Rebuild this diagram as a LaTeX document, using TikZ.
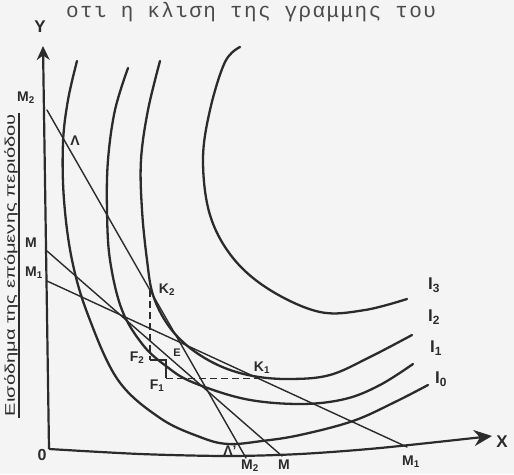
\documentclass[tikz,border=0pt]{standalone}
\usepackage{fontspec}
\setmainfont{Liberation Sans}
\newfontfamily\twfont[LetterSpace=6.7]{Liberation Mono}
\usetikzlibrary{arrows.meta,calc}
\definecolor{ink}{HTML}{2B2B2B}
\definecolor{paper}{HTML}{F4F4F4}
\begin{document}
\begin{tikzpicture}[x=1pt,y=-1pt,
  curve/.style={ink, line width=2.3pt, line cap=round, line join=round},
  bline/.style={ink, line width=1.4pt, line cap=round},
  axis/.style={ink, line width=2.2pt},
  lbl/.style={ink, font=\bfseries\fontsize{14}{14}\selectfont, inner sep=0pt},
  ilbl/.style={ink, font=\bfseries\fontsize{17}{17}\selectfont, inner sep=0pt},
  dsh/.style={ink, line width=1.2pt, dash pattern=on 7pt off 4pt}]
\fill[paper] (0,0) rectangle (514,474);
\useasboundingbox (0,0) rectangle (514,474);
\clip (0,0) rectangle (514,474);

% top typed line
\node[anchor=base west, inner sep=0pt, ink!85, font=\twfont\fontsize{21}{21}\selectfont] (toptext) at (66,17) {οτι η κλιση της γραμμης του};

% axes
\coordinate (O) at (49,449);
\coordinate (ytip) at (43,46);
\draw[axis,-{Stealth[length=14pt,width=13pt]}] (O) -- (ytip);
\draw[axis,-{Stealth[length=18pt,width=16pt]}] plot[smooth] coordinates {(49,449) (140,454) (227,456) (300,454) (380,448) (492,436)};
\node[lbl, font=\bfseries\fontsize{17}{17}\selectfont] (Ylab) at (40,27) {Y};
\node[lbl, font=\bfseries\fontsize{17}{17}\selectfont] (Xlab) at (502,442) {X};
\node[lbl, font=\bfseries\fontsize{16}{16}\selectfont] (Olab) at (42,455) {0};

% vertical axis caption
\node[rotate=90, ink, inner sep=0pt] (ycap) at (11,265) {\resizebox{302pt}{\height}{\fontsize{14}{14}\selectfont Εισόδημα της επόμενης περιόδου}};
\coordinate (ul1) at (19,418);
\coordinate (ul2) at (19,113);
\draw[ink, line width=1.1pt] (ul1) -- (ul2);

% budget lines
\coordinate (M2y) at (47,110); \coordinate (M2x) at (246,458);
\coordinate (My) at (47,251);  \coordinate (Mx) at (282,456);
\coordinate (M1y) at (47,281); \coordinate (M1x) at (407,447);
\draw[bline] (M2y) -- (M2x);
\draw[bline] (My) -- (Mx);
\draw[bline] (M1y) -- (M1x);

% indifference curves
\draw[curve] plot[smooth, tension=0.6] coordinates {(77,61) (68,100) (63,143) (64,200) (72,260) (88,315) (118,380) (160,418) (200,437) (228,444) (262,441) (300,435) (353,421) (395,402) (428,385)};
\draw[curve] plot[smooth, tension=0.6] coordinates {(128,68) (115,110) (108,160) (107,210) (110,260) (122,310) (143,345) (166,366) (192,382) (245,399) (300,404) (345,399) (380,385) (413,364)};
\draw[curve] plot[smooth, tension=0.6] coordinates {(160,61) (148,110) (141,160) (142,210) (147,260) (153,295) (168,325) (190,348) (220,366) (253,376) (290,379) (330,375) (370,357) (412,335)};
\draw[curve] plot[smooth, tension=0.6] coordinates {(240,47) (225,62) (210,110) (203,160) (210,215) (233,258) (270,290) (320,312) (365,310) (407,299)};

% construction
\coordinate (K2) at ($(M2y)!0.518!(M2x)$);
\coordinate (E) at (166,360);
\coordinate (F2) at (K2 |- E);
\coordinate (K1) at ($(M1y)!0.585!(M1x)$);
\coordinate (F1) at (E |- K1);
\draw[dsh] (K2) -- (F2);
\draw[ink, line width=1.2pt] (F2) -- (E) -- (F1);
\draw[dsh] (F1) -- (K1);

% labels
\node[lbl] (lM2) at (26,98) {M\textsubscript{2}};
\node[lbl] (lM) at (31,243) {M};
\node[lbl] (lM1) at (34,273) {M\textsubscript{1}};
\node[lbl] (lL) at (75,141) {Λ};
\node[lbl] (lL2) at (230,451) {Λ'};
\node[lbl] (lK2) at (167,290) {K\textsubscript{2}};
\node[lbl] (lF2) at (137,358) {F\textsubscript{2}};
\node[lbl, font=\bfseries\fontsize{11}{11}\selectfont] (lE) at (177,353) {E};
\node[lbl] (lF1) at (157,386) {F\textsubscript{1}};
\node[lbl] (lK1) at (262,368) {K\textsubscript{1}};
\node[lbl] (lM2b) at (250,466) {M\textsubscript{2}};
\node[lbl] (lMb) at (284,465) {M};
\node[lbl] (lM1b) at (411,462) {M\textsubscript{1}};
\node[ilbl] (lI3) at (434,285) {I\textsubscript{3}};
\node[ilbl] (lI2) at (434,317) {I\textsubscript{2}};
\node[ilbl] (lI1) at (436,348) {I\textsubscript{1}};
\node[ilbl] (lI0) at (441,379) {I\textsubscript{0}};
\end{tikzpicture}
\end{document}
